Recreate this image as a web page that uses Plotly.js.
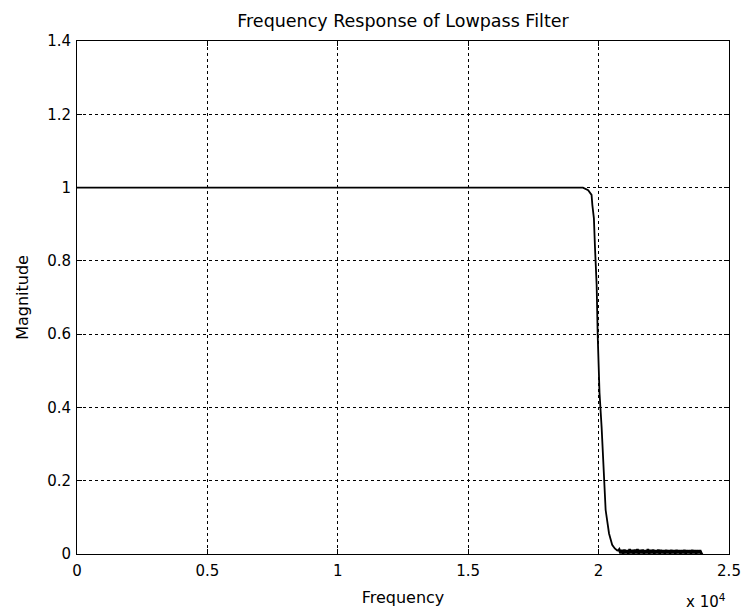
<!DOCTYPE html>
<html>
<head>
<meta charset="utf-8">
<script src="https://cdn.plot.ly/plotly-3.0.1.min.js"></script>
<style>
  html, body { margin: 0; padding: 0; background: #fff; }
  #chart { width: 748px; height: 613px; }
</style>
</head>
<body>
<div id="chart"></div>
<script>
// Magnitude response of the lowpass filter (frequency in Hz)
const passFreq = [0, 5000, 10000, 15000, 19400, 19600, 19730, 19760, 19820, 19860,
                  19925, 19965, 19985, 20010, 20035, 20115, 20180, 20270, 20400,
                  20520, 20620, 20690, 20740];
const passMag  = [1, 1, 1, 1, 1, 0.993, 0.98, 0.953, 0.916, 0.839,
                  0.734, 0.598, 0.55, 0.50, 0.44, 0.347, 0.238, 0.12, 0.056,
                  0.025, 0.015, 0.011, 0.008];

// Stopband ripple
const stopFreq = [20740, 20790, 20840, 20890, 20940, 20990, 21040, 21090, 21140, 21190,
                  21240, 21290, 21340, 21390, 21440, 21490, 21540, 21590, 21640, 21690,
                  21740, 21790, 21840, 21890, 21940, 21990, 22040, 22090, 22140, 22190,
                  22240, 22290, 22340, 22390, 22440, 22490, 22540, 22590, 22640, 22690,
                  22740, 22790, 22840, 22890, 22940, 22990, 23040, 23090, 23140, 23190,
                  23240, 23290, 23340, 23390, 23440, 23490, 23540, 23590, 23640, 23690,
                  23740, 23790, 23840, 23890, 23940, 23990];
const stopMag  = [0.008, 0.012, 0.002, 0.011, 0.001, 0.012, 0.002, 0.010, 0.001, 0.013,
                  0.002, 0.011, 0.001, 0.012, 0.002, 0.013, 0.001, 0.011, 0.002, 0.012,
                  0.001, 0.010, 0.002, 0.013, 0.001, 0.011, 0.002, 0.012, 0.001, 0.010,
                  0.002, 0.012, 0.001, 0.011, 0.002, 0.010, 0.001, 0.011, 0.002, 0.010,
                  0.001, 0.011, 0.002, 0.010, 0.001, 0.011, 0.002, 0.010, 0.001, 0.010,
                  0.002, 0.011, 0.001, 0.010, 0.002, 0.010, 0.001, 0.011, 0.002, 0.010,
                  0.001, 0.010, 0.002, 0.010, 0.001, 0.003];

const xTickVals = [0, 5000, 10000, 15000, 20000, 25000];
const xTickText = ['0', '0.5', '1', '1.5', '2', '2.5'];
const yTickVals = [0, 0.2, 0.4, 0.6, 0.8, 1, 1.2, 1.4];
const yTickText = ['0', '0.2', '0.4', '0.6', '0.8', '1', '1.2', '1.4'];

const family = 'DejaVu Sans, Verdana, sans-serif';
const tickFont = { family: family, size: 15, color: '#000' };
const labelFont = { family: family, size: 16, color: '#000' };

const axisCommon = {
  showline: true, linecolor: '#000', linewidth: 1, mirror: 'ticks',
  ticks: 'inside', ticklen: 5, tickcolor: '#000', tickwidth: 1,
  showgrid: true, gridcolor: '#000', gridwidth: 1, griddash: '3px,3px',
  zeroline: false, tickfont: tickFont
};

const data = [
  {
    x: passFreq, y: passMag, type: 'scatter', mode: 'lines',
    line: { color: '#000', width: 1.8 }, hoverinfo: 'skip'
  },
  {
    x: stopFreq, y: stopMag, type: 'scatter', mode: 'lines',
    line: { color: '#000', width: 2.6 }, hoverinfo: 'skip'
  }
];

const layout = {
  width: 748, height: 613,
  margin: { l: 77, r: 19, t: 41, b: 59 },
  paper_bgcolor: '#fff', plot_bgcolor: '#fff',
  showlegend: false,
  font: labelFont,
  title: {
    text: 'Frequency Response of Lowpass Filter',
    font: { family: family, size: 17.5, color: '#000' },
    x: 0.5, xanchor: 'center', xref: 'paper',
    y: 1 - 21 / 613, yanchor: 'middle', yref: 'container'
  },
  xaxis: Object.assign({}, axisCommon, {
    range: [0, 25000], tickvals: xTickVals, ticktext: xTickText,
    ticklabelstandoff: 3,
    title: { text: 'Frequency', font: labelFont, standoff: 12 }
  }),
  yaxis: Object.assign({}, axisCommon, {
    range: [0, 1.4], tickvals: yTickVals, ticktext: yTickText,
    ticklabelstandoff: 2,
    title: { text: 'Magnitude', font: labelFont, standoff: 14 }
  }),
  annotations: [{
    xref: 'paper', yref: 'paper', x: 1, y: 0,
    xanchor: 'right', yanchor: 'middle', yshift: -47, xshift: -1, showarrow: false,
    text: 'x 10<sup>4</sup>', font: tickFont
  }]
};

Plotly.newPlot('chart', data, layout, { displayModeBar: false, staticPlot: true });
</script>
</body>
</html>
